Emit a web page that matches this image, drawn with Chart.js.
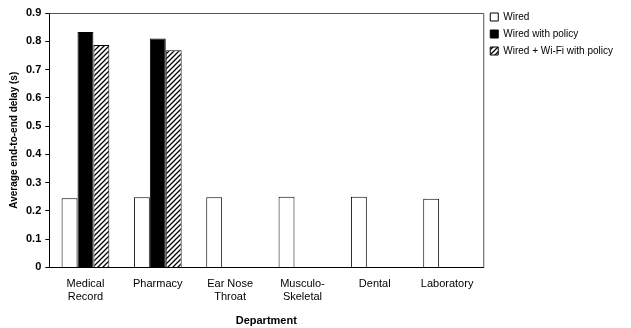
<!DOCTYPE html>
<html>
<head>
<meta charset="utf-8">
<script src="https://cdn.jsdelivr.net/npm/chart.js@4"></script>
<style>
  html, body { margin: 0; padding: 0; background: #fff; }
  #wrap { width: 631px; height: 328px; }
</style>
</head>
<body>
<div id="wrap"><canvas id="delayChart" width="631" height="328"></canvas></div>
<script>
// Departments and average end-to-end delay (s)
const departments = [
    ['Medical', 'Record'],
    'Pharmacy',
    ['Ear Nose', 'Throat'],
    ['Musculo-', 'Skeletal'],
    'Dental',
    'Laboratory'
];
const wired = [0.245, 0.248, 0.248, 0.25, 0.25, 0.243];
const wiredPolicy = [0.833, 0.81, null, null, null, null];
const wiredWifiPolicy = [0.787, 0.768, null, null, null, null];

// diagonal hatch pattern for the Wi-Fi series
function makeHatch() {
    const c = document.createElement('canvas');
    c.width = 5;
    c.height = 5;
    const g = c.getContext('2d');
    g.fillStyle = '#fff';
    g.fillRect(0, 0, 5, 5);
    g.strokeStyle = '#000';
    g.lineWidth = 1.3;
    g.beginPath();
    g.moveTo(-1, 6); g.lineTo(6, -1);
    g.moveTo(-1, 1); g.lineTo(1, -1);
    g.moveTo(4, 6); g.lineTo(6, 4);
    g.stroke();
    return g.createPattern(c, 'repeat');
}

// frame around the plot area, legend nudged up to the top edge
const frame = {
    id: 'frame',
    afterUpdate(chart) {
        if (chart.legend) chart.legend.top -= 8;
    },
    afterDraw(chart) {
        const a = chart.chartArea;
        const ctx = chart.ctx;
        ctx.save();
        ctx.strokeStyle = '#555';
        ctx.lineWidth = 1;
        ctx.beginPath();
        ctx.moveTo(a.left, a.top + 0.5);
        ctx.lineTo(a.right + 0.5, a.top + 0.5);
        ctx.lineTo(a.right + 0.5, a.bottom);
        ctx.stroke();
        ctx.restore();
    }
};

const ctx = document.getElementById('delayChart').getContext('2d');

new Chart(ctx, {
    type: 'bar',
    data: {
        labels: departments,
        datasets: [
            {
                label: 'Wired',
                data: wired,
                backgroundColor: '#fff',
                borderColor: '#000',
                borderWidth: 1
            },
            {
                label: 'Wired with policy',
                data: wiredPolicy,
                backgroundColor: '#000',
                borderColor: '#000',
                borderWidth: 1
            },
            {
                label: 'Wired + Wi-Fi with policy',
                data: wiredWifiPolicy,
                backgroundColor: makeHatch(),
                borderColor: '#000',
                borderWidth: 1
            }
        ]
    },
    options: {
        responsive: false,
        animation: false,
        layout: { padding: { top: 13, right: 8, left: 8, bottom: 0 } },
        datasets: {
            bar: { categoryPercentage: 0.66, barPercentage: 1.0 }
        },
        plugins: {
            legend: {
                position: 'right',
                align: 'start',
                labels: {
                    boxWidth: 8,
                    boxHeight: 8,
                    padding: 7,
                    color: '#000',
                    font: { family: 'Arial, Liberation Sans', size: 10 }
                }
            },
            tooltip: { enabled: false }
        },
        scales: {
            x: {
                grid: { display: false },
                border: { color: '#000' },
                ticks: {
                    color: '#000',
                    padding: 2,
                    maxRotation: 0,
                    font: { family: 'Arial, Liberation Sans', size: 11 }
                },
                title: {
                    display: true,
                    text: 'Department',
                    color: '#000',
                    padding: { top: 9, bottom: 0 },
                    font: { family: 'Arial, Liberation Sans', size: 11, weight: 'bold' }
                }
            },
            y: {
                min: 0,
                max: 0.9,
                ticks: {
                    stepSize: 0.1,
                    color: '#000',
                    padding: 4,
                    font: { family: 'Arial, Liberation Sans', size: 11, weight: 'bold' }
                },
                grid: { drawOnChartArea: false, tickLength: 4, color: '#000' },
                border: { color: '#000' },
                title: {
                    display: true,
                    text: 'Average end-to-end delay (s)',
                    color: '#000',
                    padding: { top: 0, bottom: 2 },
                    font: { family: 'Arial, Liberation Sans', size: 10, weight: 'bold' }
                }
            }
        }
    },
    plugins: [frame]
});
</script>
</body>
</html>
